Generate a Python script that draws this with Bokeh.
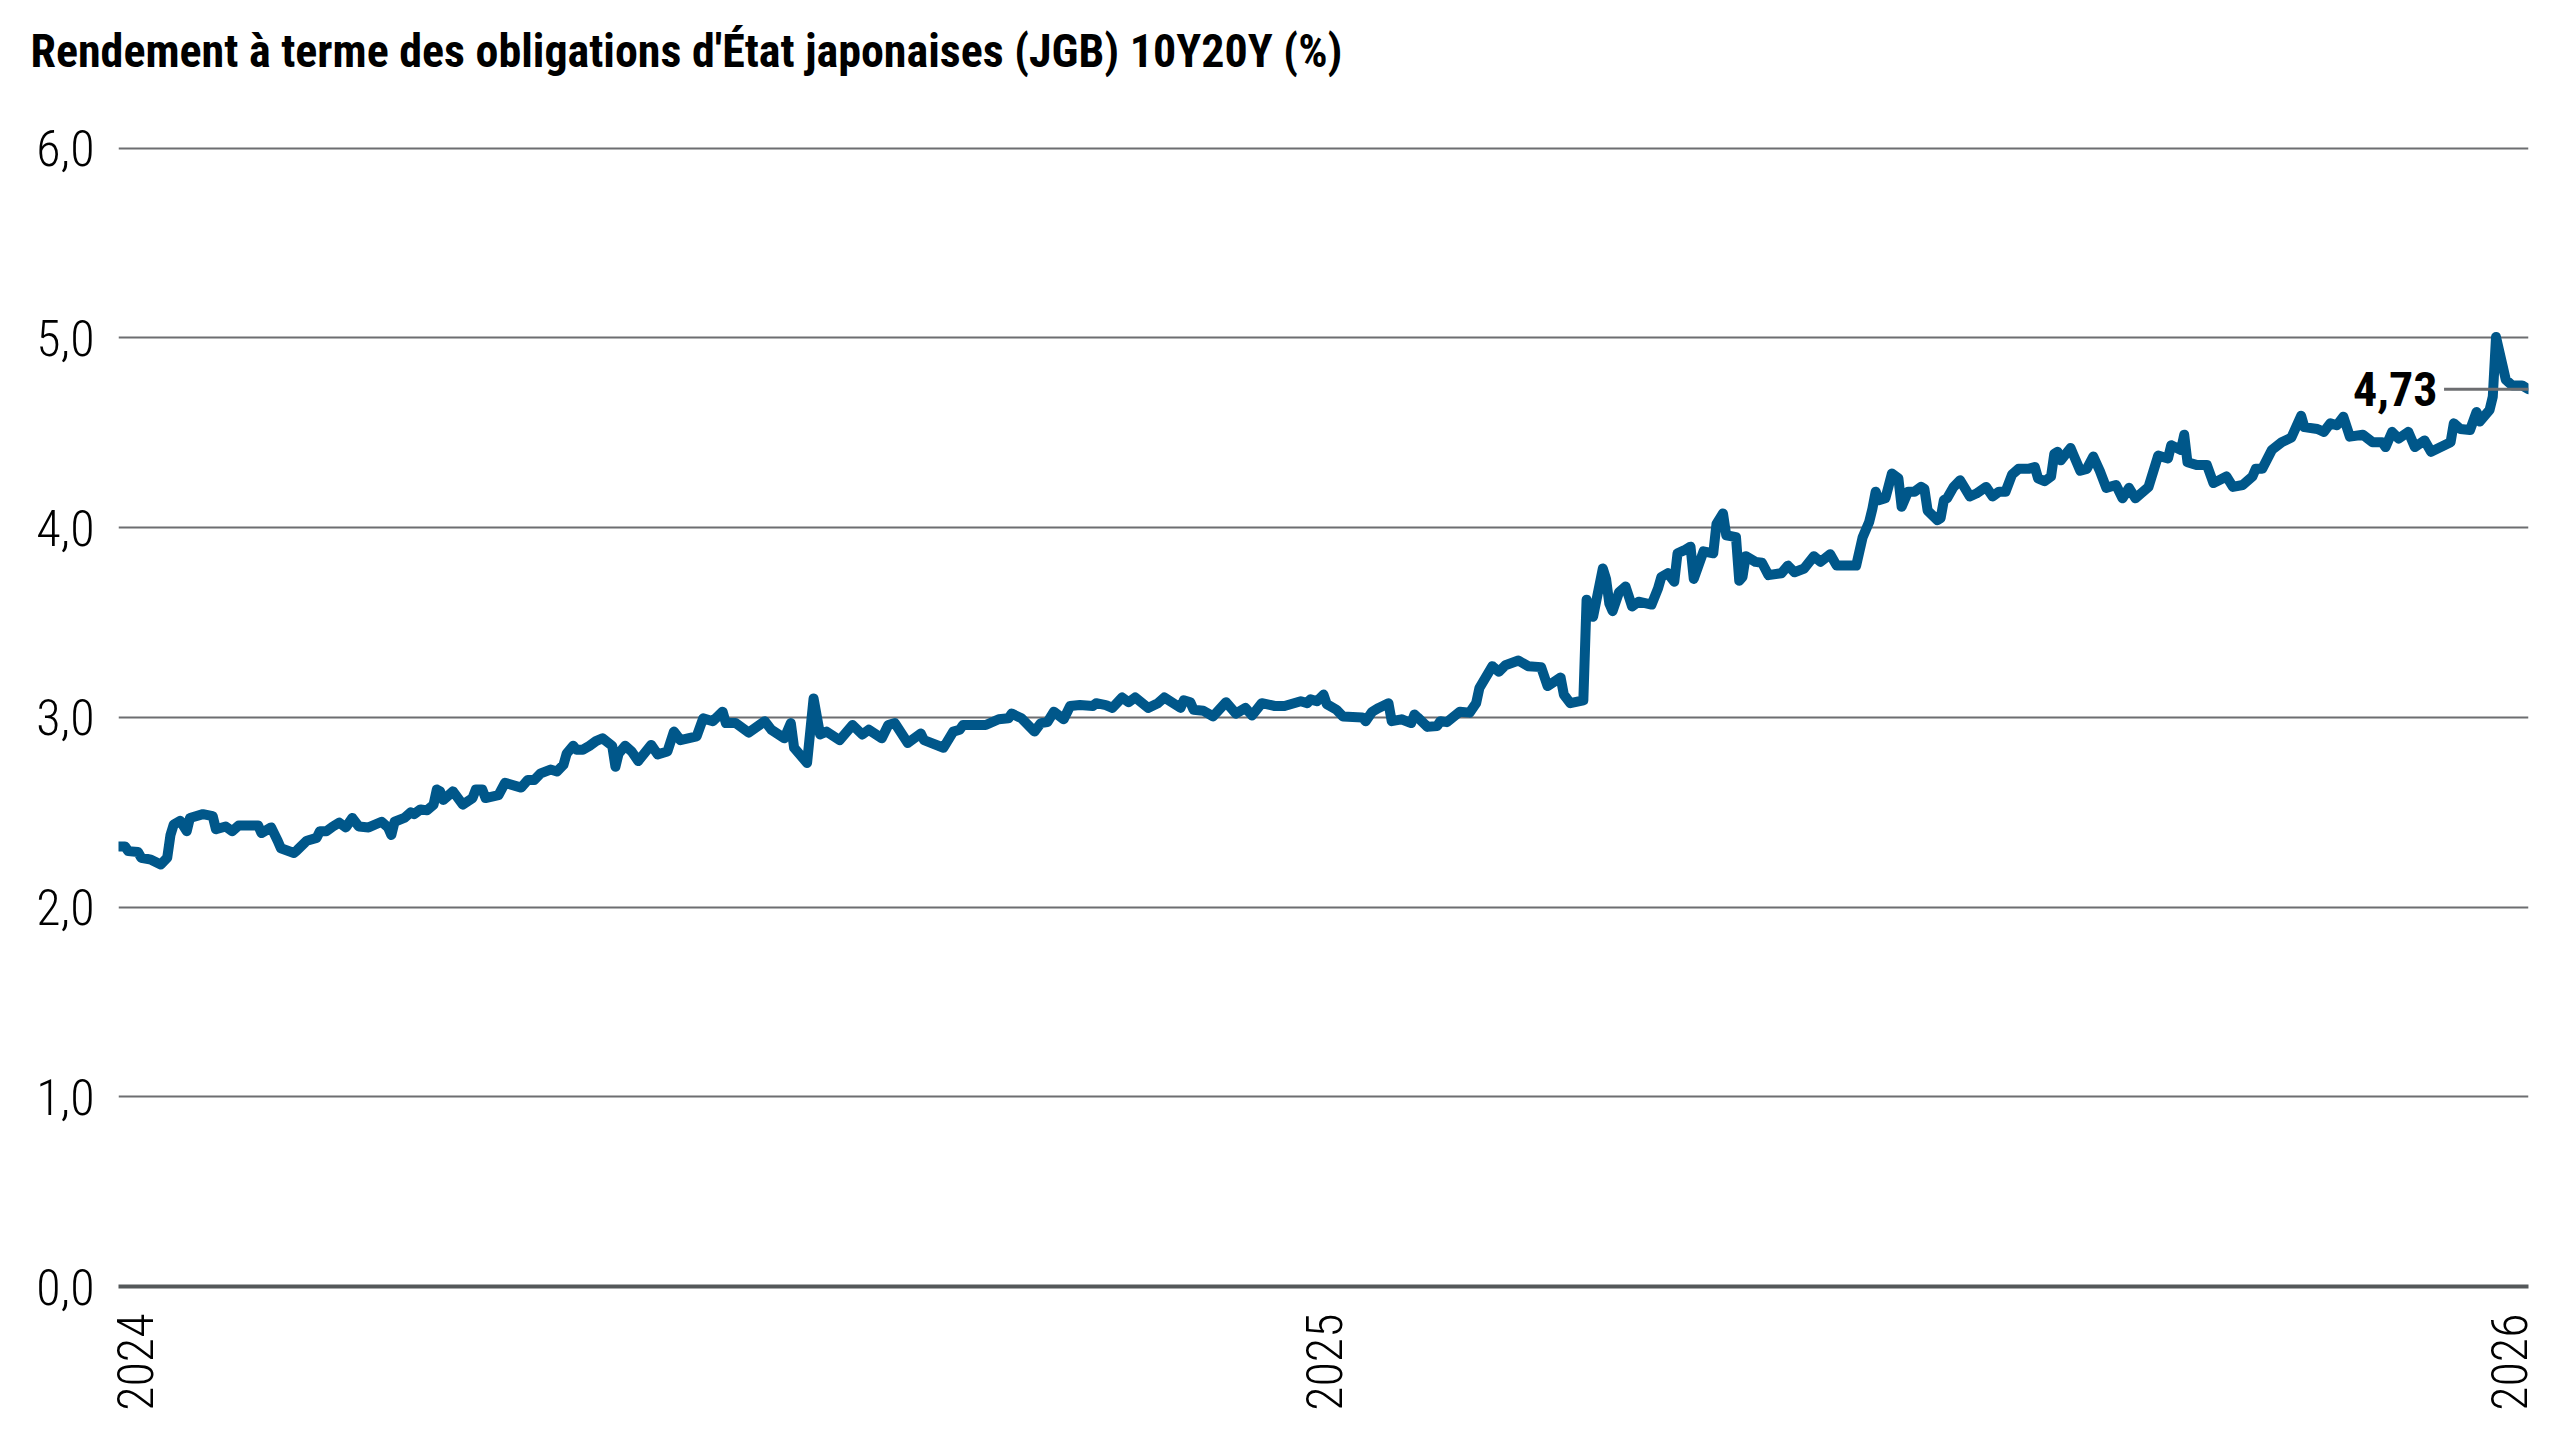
import numpy as np
import pandas as pd
from bokeh.plotting import figure
from bokeh.models import Range1d, FixedTicker, DatetimeTickFormatter, Label
from bokeh.embed import file_html
from bokeh.resources import INLINE

title_text = "Rendement à terme des obligations d'État japonaises (JGB) 10Y20Y (%)"

# days since 2024-01-01 and yield values (%)
days = [-5, -3, -2, 1, 2, 5, 8, 10, 11, 12, 14, 16, 17, 21, 24, 25, 28, 30, 32, 38,
        39, 42, 44, 45, 49, 50, 53, 56, 57, 59, 61, 63, 65, 67, 69, 72, 76, 78, 79, 80,
        83, 85, 86, 88, 90, 92, 93, 94, 95, 98, 101, 104, 105, 107, 108, 112, 114, 119, 121, 123,
        125, 128, 130, 132, 133, 135, 136, 138, 140, 142, 144, 147, 148, 149, 151, 153, 155, 159, 161, 164,
        166, 168, 173, 175, 178, 181, 182, 185, 189, 194, 196, 200, 202, 203, 207, 209, 211, 213, 217, 221,
        224, 226, 230, 232, 234, 238, 242, 243, 249, 252, 254, 255, 262, 266, 269, 270, 273, 277, 279, 281,
        283, 286, 288, 291, 295, 296, 299, 301, 304, 306, 308, 312, 315, 317, 322, 323, 325, 326, 329, 332,
        336, 339, 342, 344, 347, 351, 354, 359, 361, 362, 364, 366, 367, 370, 372, 378, 379, 381, 383, 386,
        387, 390, 393, 394, 395, 398, 401, 402, 404, 408, 411, 413, 414, 418, 420, 422, 426, 429, 433, 435,
        439, 440, 442, 446, 447, 449, 452, 453, 454, 455, 457, 459, 461, 463, 467, 469, 470, 472, 474, 475,
        477, 479, 480, 483, 486, 487, 489, 490, 493, 494, 495, 496, 499, 501, 503, 507, 509, 511, 514, 517,
        519, 522, 524, 530, 532, 534, 535, 536, 537, 539, 541, 543, 544, 546, 548, 550, 551, 552, 555, 556,
        557, 558, 560, 562, 565, 567, 570, 572, 574, 576, 578, 580, 583, 585, 586, 588, 590, 591, 592, 593,
        596, 597, 599, 601, 603, 605, 607, 610, 612, 614, 616, 620, 623, 626, 627, 630, 631, 632, 635, 638,
        640, 644, 646, 649, 652, 653, 655, 658, 661, 664, 667, 668, 672, 674, 676, 678, 680, 682, 686, 689,
        692, 693, 695, 697, 700, 702, 705, 707, 710, 713, 714, 716, 719, 721, 722, 725, 726, 727, 729, 730,
        732, 735, 737]

values = [2.32, 2.32, 2.295, 2.29, 2.26, 2.25, 2.225, 2.26, 2.38, 2.435, 2.455, 2.40, 2.47, 2.49, 2.48, 2.41, 2.425, 2.40, 2.43, 2.43,
          2.39, 2.42, 2.35, 2.31, 2.285, 2.30, 2.35, 2.365, 2.40, 2.40, 2.425, 2.445, 2.42, 2.47, 2.425, 2.42, 2.45, 2.42, 2.38, 2.45,
          2.47, 2.50, 2.49, 2.515, 2.51, 2.54, 2.62, 2.61, 2.565, 2.61, 2.54, 2.575, 2.62, 2.62, 2.575, 2.59, 2.655, 2.63, 2.67, 2.67,
          2.705, 2.725, 2.715, 2.75, 2.81, 2.85, 2.83, 2.83, 2.85, 2.875, 2.89, 2.85, 2.74, 2.81, 2.85, 2.82, 2.77, 2.855, 2.805, 2.82,
          2.925, 2.88, 2.90, 2.995, 2.98, 3.03, 2.97, 2.97, 2.92, 2.98, 2.935, 2.89, 2.97, 2.84, 2.76, 3.10, 2.91, 2.925, 2.88, 2.96,
          2.91, 2.935, 2.89, 2.96, 2.97, 2.865, 2.915, 2.88, 2.84, 2.925, 2.935, 2.96, 2.96, 2.99, 2.995, 3.02, 2.995, 2.925, 2.97, 2.975,
          3.03, 2.99, 3.06, 3.065, 3.06, 3.075, 3.065, 3.05, 3.105, 3.08, 3.105, 3.05, 3.075, 3.105, 3.05, 3.09, 3.08, 3.04, 3.035, 3.005,
          3.08, 3.02, 3.05, 3.01, 3.075, 3.06, 3.06, 3.085, 3.075, 3.095, 3.085, 3.12, 3.07, 3.04, 3.005, 3.00, 2.98, 3.03, 3.05, 3.075,
          2.98, 2.99, 2.97, 3.015, 3.00, 2.95, 2.955, 2.98, 2.975, 3.03, 3.025, 3.075, 3.155, 3.27, 3.24, 3.275, 3.30, 3.27, 3.265, 3.165,
          3.21, 3.12, 3.075, 3.09, 3.62, 3.53, 3.785, 3.73, 3.60, 3.56, 3.66, 3.69, 3.585, 3.61, 3.595, 3.68, 3.74, 3.76, 3.715, 3.865,
          3.88, 3.90, 3.73, 3.875, 3.865, 4.02, 4.075, 3.96, 3.95, 3.72, 3.74, 3.85, 3.82, 3.815, 3.75, 3.76, 3.80, 3.765, 3.785, 3.85,
          3.82, 3.86, 3.80, 3.80, 3.95, 4.03, 4.10, 4.19, 4.145, 4.155, 4.285, 4.26, 4.11, 4.19, 4.19, 4.215, 4.205, 4.09, 4.04, 4.05,
          4.145, 4.155, 4.215, 4.25, 4.165, 4.18, 4.215, 4.165, 4.19, 4.19, 4.28, 4.31, 4.31, 4.32, 4.26, 4.245, 4.27, 4.39, 4.40, 4.355,
          4.42, 4.38, 4.30, 4.31, 4.375, 4.30, 4.21, 4.225, 4.155, 4.21, 4.155, 4.215, 4.38, 4.365, 4.435, 4.41, 4.49, 4.345, 4.33, 4.33,
          4.235, 4.27, 4.215, 4.225, 4.27, 4.31, 4.31, 4.41, 4.45, 4.475, 4.59, 4.53, 4.52, 4.505, 4.55, 4.54, 4.585, 4.48, 4.49, 4.45,
          4.45, 4.425, 4.505, 4.47, 4.505, 4.425, 4.46, 4.40, 4.425, 4.45, 4.55, 4.52, 4.515, 4.61, 4.56, 4.62, 4.69, 5.005, 4.855, 4.78,
          4.75, 4.75, 4.73]

year_ticks = ["2024-01-01", "2025-01-01", "2026-01-01"]
y_ticks = [0, 1, 2, 3, 4, 5, 6]
y_tick_labels = ["0,0", "1,0", "2,0", "3,0", "4,0", "5,0", "6,0"]
last_label = "4,73"

dates = pd.Timestamp("2024-01-01") + pd.to_timedelta(days, unit="D")

LINE_COLOR = "#00578a"
GRID_COLOR = "#6d6e71"
AXIS_COLOR = "#54585a"
TITLE_FONT = "Roboto Condensed"
TICK_FONT = "Roboto Condensed Light, Roboto Condensed"

p = figure(width=2550, height=1428, x_axis_type="datetime",
           output_backend="svg", toolbar_location=None,
           x_range=Range1d(dates[0], dates[-1]),
           y_range=Range1d(0, 6.294),
           min_border_left=118, min_border_right=22,
           min_border_top=92, min_border_bottom=142)
p.outline_line_color = None
p.background_fill_color = "white"
p.border_fill_color = "white"

p.title.text = title_text
p.title.text_font = TITLE_FONT
p.title.text_font_style = "bold"
p.title.text_font_size = "46px"
p.title.text_color = "black"
p.title.align = "left"
p.title.offset = -88
p.title.standoff = 30

p.line(dates, values, line_color=LINE_COLOR, line_width=10, line_join="round", line_cap="round")

# end-value annotation with leader line
lead_start = dates[-1] - pd.Timedelta(days=26)
p.line([lead_start, dates[-1]], [values[-1], values[-1]], line_color=GRID_COLOR, line_width=3)
p.add_layout(Label(x=dates[-1] - pd.Timedelta(days=28), y=values[-1], text=last_label,
                   text_align="right", text_baseline="middle",
                   text_font=TITLE_FONT, text_font_style="bold",
                   text_font_size="48px", text_color="black"))

# y axis
p.yaxis.ticker = FixedTicker(ticks=y_ticks)
p.yaxis.major_label_overrides = dict(zip(y_ticks, y_tick_labels))
p.yaxis.axis_line_color = None
p.yaxis.major_tick_line_color = None
p.yaxis.minor_tick_line_color = None
p.yaxis.major_label_text_font = TICK_FONT
p.yaxis.major_label_text_font_size = "50px"
p.yaxis.major_label_text_color = "black"
p.yaxis.major_label_standoff = 18

# x axis
p.xaxis.ticker = FixedTicker(ticks=[pd.Timestamp(s).value / 1e6 for s in year_ticks])
p.xaxis.formatter = DatetimeTickFormatter(years="%Y", months="%Y", days="%Y", hours="%Y",
                                          minutes="%Y", seconds="%Y", milliseconds="%Y",
                                          microseconds="%Y", hourmin="%Y", minsec="%Y")
p.xaxis.major_label_orientation = np.pi / 2
p.xaxis.axis_line_color = AXIS_COLOR
p.xaxis.axis_line_width = 4
p.xaxis.major_tick_line_color = None
p.xaxis.minor_tick_line_color = None
p.xaxis.major_label_text_font = TICK_FONT
p.xaxis.major_label_text_font_size = "50px"
p.xaxis.major_label_text_color = "black"
p.xaxis.major_label_standoff = 21

p.xgrid.visible = False
p.ygrid.grid_line_color = GRID_COLOR
p.ygrid.grid_line_width = 2

open("out.html", "w").write(file_html(p, INLINE))
